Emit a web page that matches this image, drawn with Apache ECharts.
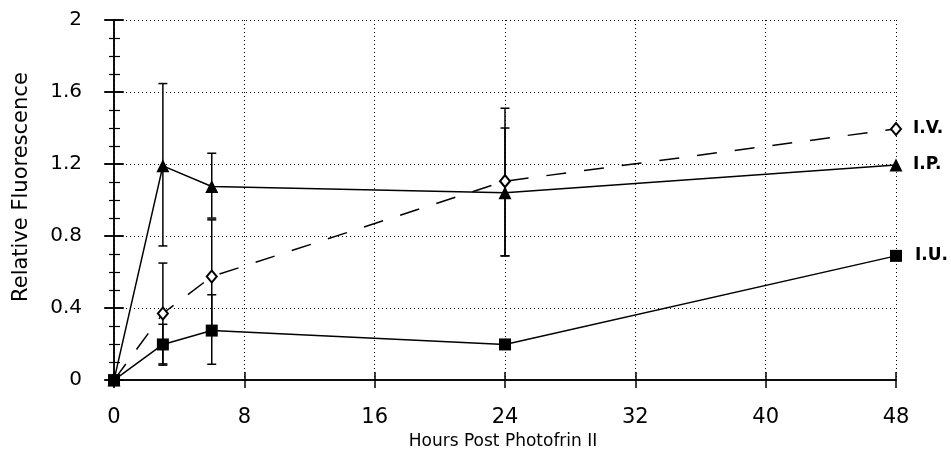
<!DOCTYPE html>
<html>
<head>
<meta charset="utf-8">
<script src="https://cdn.jsdelivr.net/npm/echarts@6/dist/echarts.min.js"></script>
<style>
html,body{margin:0;padding:0;background:#fff;}
#chart{width:951px;height:455px;}
</style>
</head>
<body>
<div id="chart"></div>
<script>
// ---- data ----
const hours = [0, 3, 6, 24, 48];
const ivValues = [0, 0.37, 0.575, 1.105, 1.395];
const ipValues = [0, 1.19, 1.075, 1.04, 1.195];
const iuValues = [0, 0.198, 0.275, 0.198, 0.69];

const errHours = [3, 6, 24];
const ipLow  = [0.745, 0.90, 0.69];
const ipHigh = [1.647, 1.26, 1.40];
const ivLow  = [0.09, 0.26, 0.69];
const ivHigh = [0.65, 0.89, 1.51];
const iuLow  = [0.083, 0.088];
const iuHigh = [0.31, 0.474];

const xTicks = [0, 8, 16, 24, 32, 40, 48];
const yTickLabels = ['0', '0.4', '0.8', '1.2', '1.6', '2'];

const seriesNames = ['I.V.', 'I.P.', 'I.U.'];

function pairs(xs, ys) { return xs.map((x, i) => [x, ys[i]]); }
function errTriples(xs, lo, hi) { return lo.map((l, i) => [xs[i], l, hi[i]]); }

const errData = []
  .concat(errTriples(errHours, ipLow, ipHigh))
  .concat(errTriples(errHours, ivLow, ivHigh))
  .concat(errTriples(errHours, iuLow, iuHigh));

function renderErr(params, api) {
  const x = api.value(0), lo = api.value(1), hi = api.value(2);
  const pLo = api.coord([x, lo]);
  const pHi = api.coord([x, hi]);
  const w = 4.5;
  const st = { stroke: '#000', lineWidth: 1.5 };
  return {
    type: 'group',
    children: [
      { type: 'line', shape: { x1: pLo[0], y1: pLo[1], x2: pHi[0], y2: pHi[1] }, style: st },
      { type: 'line', shape: { x1: pLo[0] - w, y1: pLo[1], x2: pLo[0] + w, y2: pLo[1] }, style: st },
      { type: 'line', shape: { x1: pHi[0] - w, y1: pHi[1], x2: pHi[0] + w, y2: pHi[1] }, style: st }
    ]
  };
}

const tickFont = { color: '#000', fontFamily: 'DejaVu Sans', fontSize: 21 };
const dotted = { color: '#000', width: 1, type: [1, 3] };
const solid = { color: '#000', width: 1.5 };

function xAx(pos, inside, len, extra) {
  return Object.assign({
    type: 'value', min: 0, max: 48, interval: 8, position: pos,
    axisLine: { show: false, lineStyle: solid },
    axisTick: { show: true, inside: inside, length: len, lineStyle: solid },
    axisLabel: { show: false },
    splitLine: { show: false }
  }, extra || {});
}
function yAx(pos, inside, len, extra) {
  return Object.assign({
    type: 'value', min: 0, max: 2, interval: 0.4, position: pos,
    axisLine: { show: false, lineStyle: solid },
    axisTick: { show: true, inside: inside, length: len, lineStyle: solid },
    axisLabel: { show: false },
    splitLine: { show: false }
  }, extra || {});
}

const endLab = (txt, dist) => ({
  show: true, formatter: txt, distance: dist,
  color: '#000', fontFamily: 'DejaVu Sans', fontWeight: 'bold', fontSize: 17
});

const chart = echarts.init(document.getElementById('chart'), null, { renderer: 'canvas' });
chart.setOption({
  backgroundColor: '#fff',
  animation: false,
  grid: { left: 114, right: 55, top: 20, bottom: 72, containLabel: false },
  xAxis: [
    xAx('bottom', false, 6, {
      axisLine: { show: true, lineStyle: solid },
      axisLabel: { show: true, margin: 27, ...tickFont, formatter: v => xTicks.includes(v) ? String(v) : '' },
      splitLine: { show: true, lineStyle: dotted },
      name: 'Hours Post Photofrin II', nameLocation: 'middle', nameGap: 52,
      nameTextStyle: { color: '#000', fontFamily: 'DejaVu Sans', fontSize: 17, padding: [0, 4, 0, 0] }
    }),
    xAx('bottom', true, 6),
    xAx('top', false, 8, { axisLine: { show: true, lineStyle: solid } }),
    xAx('top', true, 8)
  ],
  yAxis: [
    yAx('left', false, 10, {
      axisLine: { show: true, lineStyle: solid },
      axisLabel: { show: true, margin: 32, ...tickFont, fontSize: 20,
        formatter: (v) => yTickLabels[Math.round(v / 0.4)] },
      splitLine: { show: true, lineStyle: dotted },
      name: 'Relative Fluorescence', nameLocation: 'middle', nameGap: 82,
      nameTextStyle: { color: '#000', fontFamily: 'DejaVu Sans', fontSize: 21, padding: [0, 0, 0, 26] }
    }),
    yAx('left', true, 10, { minorTick: { show: true, splitNumber: 4, length: 6, lineStyle: { color: '#000', width: 1.2 } } }),
    yAx('right', false, 9, { axisLine: { show: true, lineStyle: solid } }),
    yAx('right', true, 9, { minorTick: { show: true, splitNumber: 4, length: 5, lineStyle: { color: '#000', width: 1.2 } } })
  ],
  series: [
    {
      type: 'custom', name: 'errors', renderItem: renderErr, data: errData, z: 2,
      encode: { x: 0, y: [1, 2] }, silent: true
    },
    {
      type: 'line', name: seriesNames[0], data: pairs(hours, ivValues), z: 3,
      lineStyle: { color: '#000', width: 1.5, type: [20, 18] },
      symbol: 'diamond', symbolSize: [10, 12], showAllSymbol: true,
      itemStyle: { color: '#fff', borderColor: '#000', borderWidth: 2 },
      endLabel: endLab(seriesNames[0], 17)
    },
    {
      type: 'line', name: seriesNames[1], data: pairs(hours, ipValues), z: 4,
      lineStyle: { color: '#000', width: 1.5 },
      symbol: 'triangle', symbolSize: 13, showAllSymbol: true,
      itemStyle: { color: '#000' },
      endLabel: endLab(seriesNames[1], 17)
    },
    {
      type: 'line', name: seriesNames[2], data: pairs(hours, iuValues), z: 4,
      lineStyle: { color: '#000', width: 1.5 },
      symbol: 'rect', symbolSize: 12, showAllSymbol: true,
      itemStyle: { color: '#000' },
      endLabel: endLab(seriesNames[2], 19)
    }
  ]
});
</script>
</body>
</html>
